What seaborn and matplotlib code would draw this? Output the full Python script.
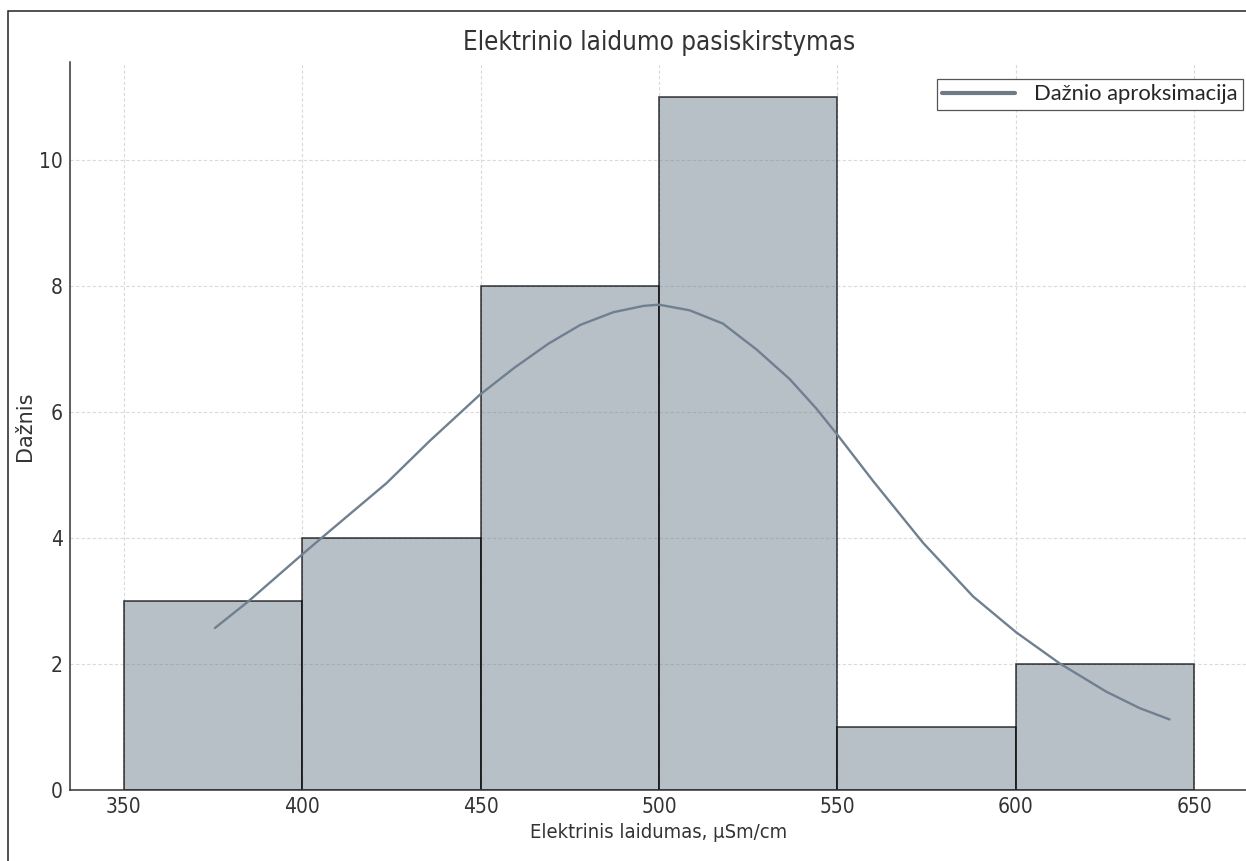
import numpy as np
import pandas as pd
import matplotlib
matplotlib.use("Agg")
import matplotlib.pyplot as plt
from matplotlib.patches import Rectangle
import seaborn as sns

# ---- data ----
bin_edges = [350, 400, 450, 500, 550, 600, 650]
counts = [3, 4, 8, 11, 1, 2]
curve_x = [375.6, 384.9, 399.9, 405.9, 423.7, 435.8, 449.8, 459.5, 469.0, 478.0,
           487.2, 495.6, 500.0, 508.6, 517.9, 527.3, 536.6, 544.1, 550.2, 560.0,
           574.0, 588.0, 600.1, 612.2, 625.3, 634.6, 643.0]
curve_y = [2.57, 2.99, 3.73, 4.02, 4.87, 5.54, 6.27, 6.70, 7.08, 7.38,
           7.58, 7.68, 7.70, 7.61, 7.40, 6.99, 6.52, 6.05, 5.62, 4.90,
           3.92, 3.07, 2.50, 2.01, 1.56, 1.30, 1.12]
x_ticks = [350, 400, 450, 500, 550, 600, 650]
y_ticks = [0, 2, 4, 6, 8, 10]
title = "Elektrinio laidumo pasiskirstymas"
xlabel = "Elektrinis laidumas, µSm/cm"
ylabel = "Dažnis"
legend_label = "Dažnio aproksimacija"

sns.set_style("white")
plt.rcParams['font.family'] = ['DejaVu Sans']

W, H = 1246, 861
fig = plt.figure(figsize=(W / 100, H / 100), dpi=100)
fig.patch.set_facecolor("white")

# cropped outer frame (left and top edges visible)
fig.add_artist(Rectangle((8 / W, -0.05), 1.2, (H - 11) / H + 0.05,
                         transform=fig.transFigure, fill=False,
                         edgecolor="#222222", linewidth=1.1, zorder=0))

ax = fig.add_axes([70 / W, (H - 790) / H, (1248 - 70) / W, (790 - 62) / H])

centers = [(bin_edges[i] + bin_edges[i + 1]) / 2 for i in range(len(counts))]
hist_df = pd.DataFrame({"x": centers, "w": counts})
sns.histplot(data=hist_df, x="x", weights="w", bins=bin_edges, ax=ax,
             stat="count", element="bars",
             facecolor=(112 / 255, 128 / 255, 144 / 255, 0.5),
             edgecolor=(0, 0, 0, 0.72), linewidth=1.2, zorder=2)

curve_df = pd.DataFrame({"x": curve_x, "y": curve_y})
sns.lineplot(data=curve_df, x="x", y="y", ax=ax, color="slategray",
             linewidth=1.7, label=legend_label, zorder=3, sort=False)

ax.set_xlim(335, 665)
ax.set_ylim(0, 11.55)
ax.set_xticks(x_ticks)
ax.set_yticks(y_ticks)

ax.set_axisbelow(True)
ax.grid(True, color="#dadada", linestyle=(0, (3, 2)), linewidth=0.8)

for side in ["top", "right"]:
    ax.spines[side].set_visible(False)
for side in ["left", "bottom"]:
    ax.spines[side].set_color("#333333")
    ax.spines[side].set_linewidth(1.1)

ax.tick_params(direction="in", length=5, width=1, colors="#333333",
               labelsize=15, pad=5)
for lab in ax.get_xticklabels() + ax.get_yticklabels():
    lab.set_fontstretch("condensed")

ax.set_title(title, fontsize=18.6, color="#333333", pad=9, fontstretch="condensed")
ax.set_xlabel(xlabel, fontsize=14.5, color="#333333", labelpad=4,
              fontstretch="condensed")
ax.set_ylabel(ylabel, fontsize=15, color="#333333", labelpad=3)

leg = ax.legend(loc="upper left", bbox_to_anchor=((937 - 70) / 1178, (790 - 79) / 728),
                borderaxespad=0, frameon=True, fancybox=False,
                prop={"family": "Lato", "size": 15.8}, handlelength=3.3,
                borderpad=0.25, handletextpad=0.85)
leg.get_frame().set_edgecolor("#555555")
leg.get_frame().set_linewidth(0.9)
leg.get_frame().set_alpha(1)
for ln in leg.get_lines():
    ln.set_linewidth(3)
    ln.set_color("#707a85")

fig.savefig("out.png", dpi=100)
